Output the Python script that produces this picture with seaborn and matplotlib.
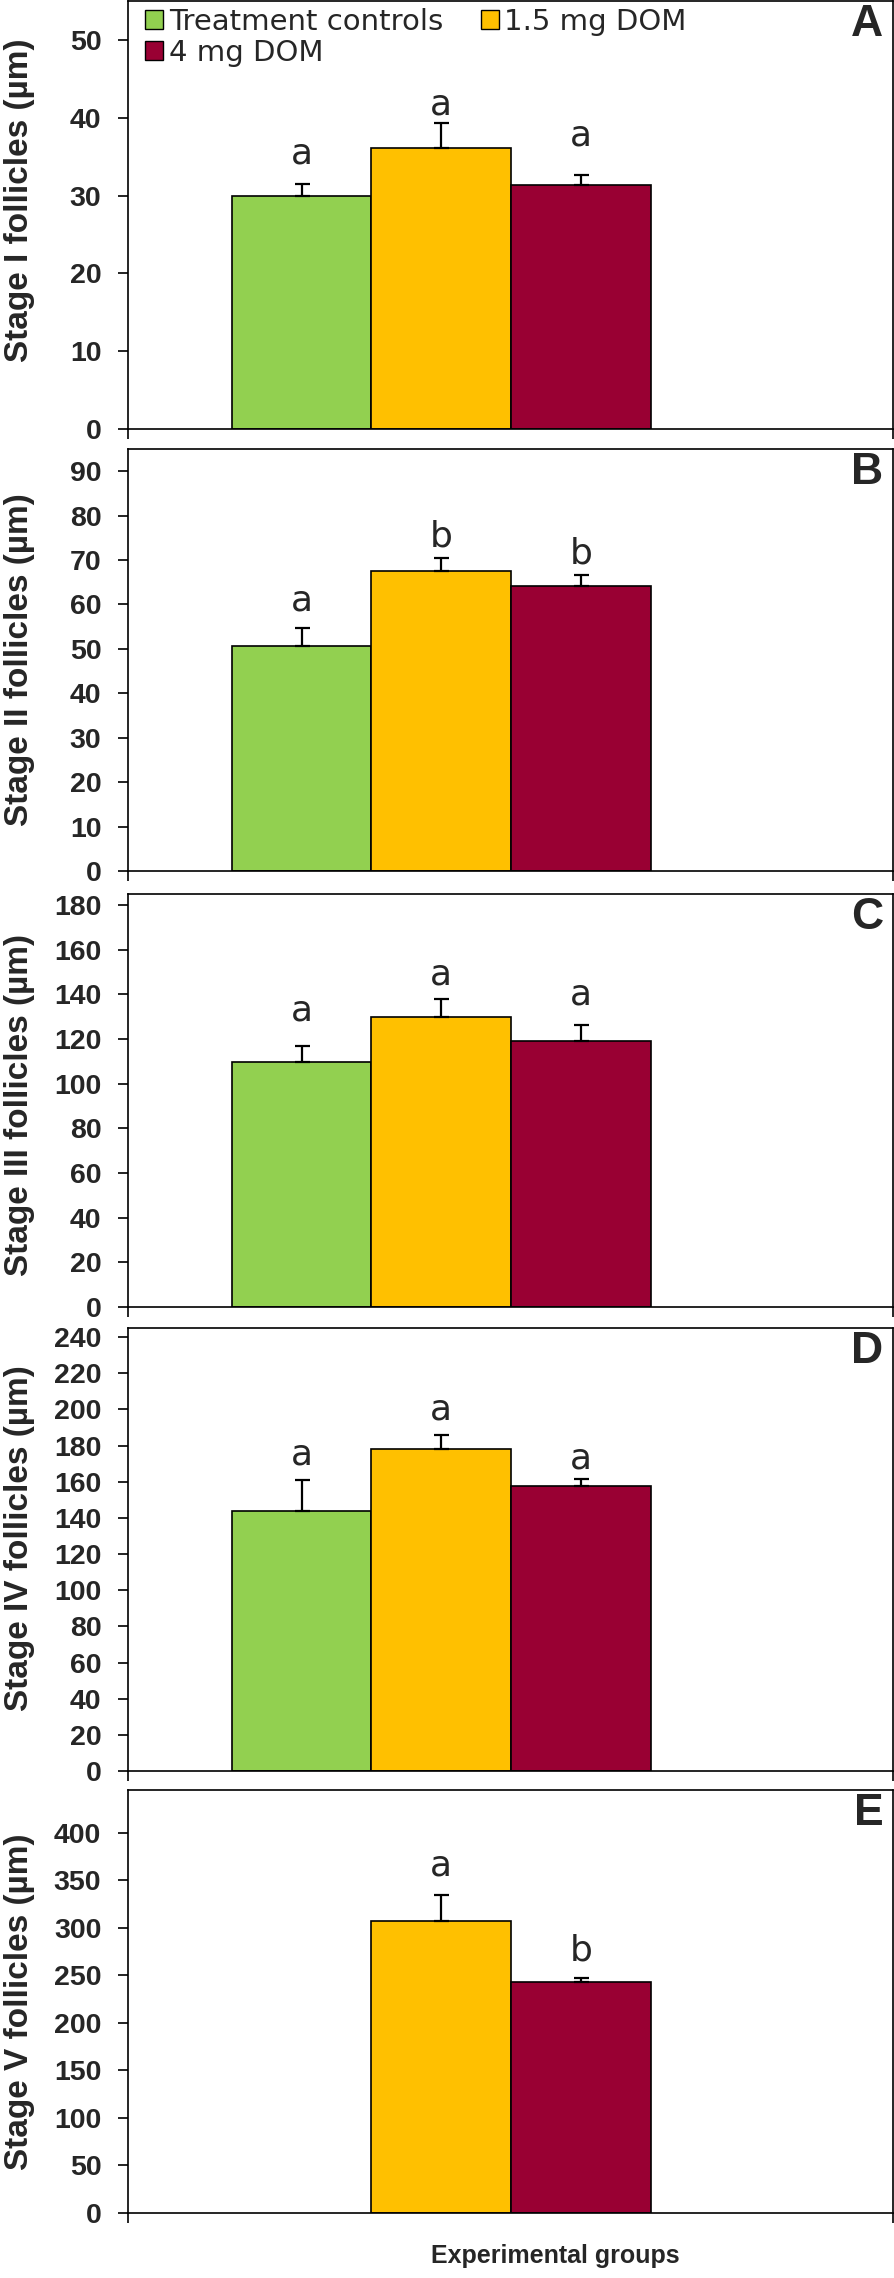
import numpy as np
import pandas as pd
import matplotlib
matplotlib.use("Agg")
import matplotlib.pyplot as plt
import seaborn as sns
from matplotlib.patches import Patch

# ---- data ----
groups = ["Treatment controls", "1.5 mg DOM", "4 mg DOM"]
colors = ["#92D050", "#FFC000", "#990033"]

panel_tags = ["A", "B", "C", "D", "E"]
ylabels = ["Stage I follicles (µm)", "Stage II follicles (µm)", "Stage III follicles (µm)",
           "Stage IV follicles (µm)", "Stage V follicles (µm)"]

means_A = [30.0, 36.1, 31.3]
sem_A = [1.5, 3.2, 1.4]
means_B = [50.6, 67.5, 64.1]
sem_B = [4.1, 3.0, 2.6]
means_C = [109.6, 130.0, 119.1]
sem_C = [7.3, 7.8, 7.0]
means_D = [143.8, 178.2, 157.6]
sem_D = [16.9, 7.4, 3.7]
means_E = [np.nan, 307.4, 242.9]
sem_E = [np.nan, 27.0, 4.3]

letters_A = ["a", "a", "a"]
letters_B = ["a", "b", "b"]
letters_C = ["a", "a", "a"]
letters_D = ["a", "a", "a"]
letters_E = ["", "a", "b"]

# baseline heights of the significance letters (data units)
letter_y_A = [34.1, 40.4, 36.4]
letter_y_B = [58.7, 73.1, 69.3]
letter_y_C = [128.5, 144.5, 135.5]
letter_y_D = [169.6, 194.5, 167.2]
letter_y_E = [np.nan, 354.6, 266.0]

ymax = [55, 95, 185, 245, 445]
ystep = [10, 10, 20, 20, 50]
ylabel_ypos = [0.534, 0.5, 0.49, 0.525, 0.5]

means = [means_A, means_B, means_C, means_D, means_E]
sems = [sem_A, sem_B, sem_C, sem_D, sem_E]
letters = [letters_A, letters_B, letters_C, letters_D, letters_E]
letter_ys = [letter_y_A, letter_y_B, letter_y_C, letter_y_D, letter_y_E]

# ---- layout (pixels) ----
W, H = 895, 2278
left_px, right_px = 128, 893
panel_px = [(1, 429), (449, 871), (894, 1307), (1328, 1771), (1790, 2213)]
xlim = (-1.242, 4.234)

sns.set_theme(style="white")
plt.rcParams['font.family'] = ['Liberation Sans', 'DejaVu Sans']

fig = plt.figure(figsize=(W / 100, H / 100), dpi=100)

for i in range(5):
    top, bot = panel_px[i]
    ax = fig.add_axes([left_px / W, 1 - bot / H, (right_px - left_px) / W, (bot - top) / H])

    df = pd.DataFrame({"group": groups, "mean": means[i], "sem": sems[i]}).dropna()

    sns.barplot(data=df, x="group", y="mean", hue="group", order=groups, hue_order=groups,
                palette=colors, saturation=1, width=1, edgecolor="black", linewidth=1.2,
                errorbar=None, legend=False, ax=ax)

    # upper-only SEM bars
    xpos = [groups.index(g) for g in df["group"]]
    ax.errorbar(xpos, df["mean"], yerr=[np.zeros(len(df)), df["sem"]], fmt="none",
                ecolor="black", elinewidth=1.6, capsize=5.4, capthick=1.6, zorder=5)

    for j in range(3):
        if letters[i][j]:
            ax.text(j, letter_ys[i][j], letters[i][j], ha="center", va="baseline",
                    fontsize=26, family=['DejaVu Sans'])

    ax.set_xlim(*xlim)
    ax.set_ylim(0, ymax[i])
    yt = np.arange(0, ymax[i] + 1, ystep[i])
    yt = yt[yt <= ymax[i] - 1]
    ax.set_yticks(yt)
    ax.set_yticklabels([str(int(t)) for t in yt], fontweight="bold", fontsize=20.5)
    ax.set_xticks([xlim[0], xlim[1]])
    ax.set_xticklabels(["", ""])
    ax.tick_params(axis="y", direction="out", length=7.2, width=1.2, pad=12, left=True, color="black")
    ax.tick_params(axis="x", direction="out", length=7.2, width=1.2, bottom=True, color="black")

    for sp in ax.spines.values():
        sp.set_visible(True)
        sp.set_color("black")
        sp.set_linewidth(1.2)

    ax.set_xlabel("")
    ax.set_ylabel(ylabels[i], fontsize=24, fontweight="bold")
    ax.yaxis.set_label_coords(-0.122, ylabel_ypos[i])

    ax.annotate(panel_tags[i], xy=(1, 1), xycoords="axes fraction", xytext=(-7, -2.5),
                textcoords="offset points", ha="right", va="top",
                fontsize=32, fontweight="bold")

    if i == 0:
        handles = [Patch(facecolor=colors[0], edgecolor="black", label=groups[0]),
                   Patch(facecolor=colors[2], edgecolor="black", label=groups[2]),
                   Patch(facecolor=colors[1], edgecolor="black", label=groups[1])]
        ax.legend(handles=handles, ncol=2, loc="upper left", bbox_to_anchor=(0.0, 1.025),
                  frameon=False, borderpad=0.1, handlelength=0.6, handleheight=0.6,
                  handletextpad=0.2, columnspacing=1.3, labelspacing=0.1,
                  prop={"family": ["DejaVu Sans"], "size": 21})

fig.text(555 / W, 1 - 2256 / H, "Experimental groups", ha="center", va="center",
         fontsize=18, fontweight="bold")

fig.savefig("out.png", dpi=100)
